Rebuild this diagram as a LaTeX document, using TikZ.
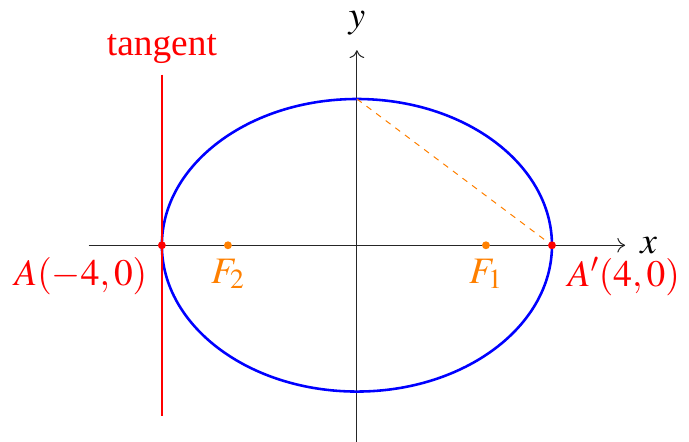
\documentclass[tikz,border=0pt]{standalone}
\usepackage{mathptmx}
\usepackage[no-math]{fontspec}
\setmainfont{Liberation Serif}
\usetikzlibrary{arrows.meta,positioning}
\definecolor{elBlue}{RGB}{0,0,255}
\definecolor{elRed}{RGB}{255,0,0}
\definecolor{elOrange}{RGB}{255,128,0}

\begin{document}
\begin{tikzpicture}[
  ax/.style={-{To[length=1.6mm,width=3mm]}, line width=0.6pt, black!85},
  elp/.style={draw=elBlue, line width=1.5pt},
  tgt/.style={draw=elRed, line width=1.5pt},
  dsh/.style={draw=elOrange, line width=0.6pt, dash pattern=on 3.5pt off 3.5pt},
  vdot/.style={circle, fill=elRed, inner sep=0pt, minimum size=4.6pt},
  fdot/.style={circle, fill=elOrange, inner sep=0pt, minimum size=4.6pt},
  lbl/.style={font=\fontsize{21.8}{26}\selectfont, inner sep=3pt}]
\useasboundingbox (-7.32,-4.02) rectangle (6.81,5.03);

% axes
\coordinate (O)  at (0,0);
\coordinate (xl) at (-5.5,0);
\coordinate (xr) at (5.5,0);
\coordinate (yb) at (0,-4.05);
\coordinate (yt) at (0,4);
\draw[ax] (xl) -- (xr);
\draw[ax] (yb) -- (yt);
\node[lbl, right=5.7pt of xr] (xlab) {$x$};
\node[lbl, above=5.8pt of yt] (ylab) {$y$};

% ellipse x^2/16 + y^2/9 = 1
\draw[elp] (O) ellipse (4 and 3);
\coordinate (B) at (0,3);

% tangent at the left vertex
\coordinate (tt) at (-4,3.5);
\coordinate (tb) at (-4,-3.5);
\draw[tgt] (tt) -- (tb);
\node[lbl, text=elRed, above=3.4pt of tt] (tlab) {tangent};

% vertices and foci
\node[vdot] (A)  at (-4,0) {};
\node[vdot] (Ap) at (4,0) {};
\node[fdot] (F1) at ({sqrt(7)},0) {};
\node[fdot] (F2) at ({-sqrt(7)},0) {};
\draw[dsh] (B) -- (Ap);

\node[lbl, text=elRed, below left=2.3pt and 3.6pt of A] (Alab) {$A(-4,0)$};
\node[lbl, text=elRed, below right=2.3pt and 4.2pt of Ap] (Aplab) {$A'(4,0)$};
\node[lbl, text=elOrange, below=2.3pt of F1] (F1lab) {$F_1$};
\node[lbl, text=elOrange, below=2.3pt of F2] (F2lab) {$F_2$};
\end{tikzpicture}
\end{document}
